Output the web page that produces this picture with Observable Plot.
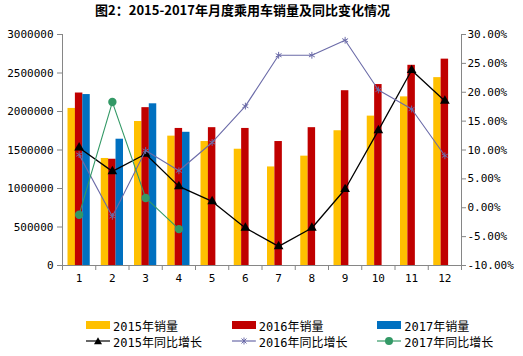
<!DOCTYPE html>
<html><head><meta charset="utf-8">
<script src="https://cdn.jsdelivr.net/npm/d3@7"></script>
<script src="https://cdn.jsdelivr.net/npm/@observablehq/plot@0.6"></script>
<style>
body{margin:0;background:#fff;width:523px;height:356px;overflow:hidden;}
#title{width:485px;height:26px;line-height:30px;text-align:center;font:bold 13px "Noto Sans CJK SC",sans-serif;color:#000;}
#legend{padding-top:27px;padding-left:86px;font:12px "DejaVu Sans Mono","Noto Sans CJK SC",monospace;color:#000;}
.row{display:flex;height:16px;align-items:center;}
.item{width:148px;display:flex;align-items:center;}
.item svg{margin-right:3px;}
</style></head>
<body>
<div id="title">图2：2015-2017年月度乘用车销量及同比变化情况</div>
<div id="chart"></div>
<div id="legend"></div>
<script>
const months = [1,2,3,4,5,6,7,8,9,10,11,12];
const sales2015 = [2040000,1390000,1870000,1680000,1610000,1510000,1280000,1420000,1750000,1940000,2190000,2440000];
const sales2016 = [2240000,1380000,2050000,1780000,1790000,1780000,1610000,1790000,2270000,2350000,2600000,2680000];
const sales2017 = [2220000,1640000,2100000,1730000];
const yoy2015 = [10.4,6.3,9.3,3.7,1.1,-3.5,-6.7,-3.5,3.2,13.4,23.8,18.5];
const yoy2016 = [9.2,-1.5,9.9,6.4,11.3,17.6,26.4,26.4,29.0,20.4,17.1,9.0];
const yoy2017 = [-1.2,18.3,1.7,-3.7];
const leftTicks = [0,500000,1000000,1500000,2000000,2500000,3000000];
const rightTicks = [-10,-5,0,5,10,15,20,25,30];

const C15 = "#FFC000", C16 = "#C00000", C17 = "#0070C0";
const L15 = "#000000", L16 = "#6B6BA8", L17 = "#339966";
const AX = "#868686";

const YMAX = 3000000, PMIN = -10, PMAX = 30;
const toY = p => (p - PMIN) / (PMAX - PMIN) * YMAX;

const mk = (vals) => vals.map((v, i) => ({m: months[i], v}));
const b15 = mk(sales2015), b16 = mk(sales2016), b17 = mk(sales2017);
const p15 = mk(yoy2015), p16 = mk(yoy2016), p17 = mk(yoy2017);

const bw = (33.17 - 11) / 3;
const bar = (data, k, fill) => Plot.rectY(data, {
  x1: d => d.m - 0.5, x2: d => d.m + 0.5, y: "v", fill,
  insetLeft: 5.5 + k * bw, insetRight: 5.5 + (2 - k) * bw
});

const font = '11px "DejaVu Sans Mono", monospace';

const chart = Plot.plot({
  width: 523, height: 264,
  marginLeft: 62, marginRight: 62, marginTop: 8, marginBottom: 25,
  style: {font, color: "#000", background: "#fff"},
  x: {type: "linear", domain: [0.5, 12.5], label: null},
  y: {domain: [0, YMAX], label: null},
  marks: [
    bar(b15, 0, C15), bar(b16, 1, C16), bar(b17, 2, C17),
    Plot.ruleY([0], {stroke: AX}),
    Plot.ruleX([0.5, 12.5], {stroke: AX}),
    Plot.axisX({ticks: d3.range(0.5, 13, 1), tickSize: 5, tickFormat: () => "", stroke: AX, label: null}),
    Plot.axisX({ticks: months, tickSize: 0, tickPadding: 9, tickFormat: d => String(d), fill: "#000", label: null}),
    Plot.axisY({anchor: "left", ticks: leftTicks, tickSize: 5, tickPadding: 4, tickFormat: d => String(d), stroke: AX, fill: "#000", label: null}),
    Plot.axisY({anchor: "right", ticks: rightTicks.map(toY), tickSize: 4, tickPadding: 2,
      tickFormat: d => (d / YMAX * (PMAX - PMIN) + PMIN).toFixed(2) + "%", stroke: AX, fill: "#000", label: null}),
    Plot.line(p15, {x: "m", y: d => toY(d.v), stroke: L15, strokeWidth: 1.3}),
    Plot.dot(p15, {x: "m", y: d => toY(d.v), symbol: "triangle", fill: L15, r: 3.6}),
    Plot.line(p16, {x: "m", y: d => toY(d.v), stroke: L16, strokeWidth: 1.1}),
    Plot.dot(p16, {x: "m", y: d => toY(d.v), symbol: "asterisk", stroke: L16, r: 3.2, strokeWidth: 1}),
    Plot.line(p17, {x: "m", y: d => toY(d.v), stroke: L17, strokeWidth: 1.1}),
    Plot.dot(p17, {x: "m", y: d => toY(d.v), symbol: "circle", fill: L17, r: 4.2})
  ]
});
document.getElementById("chart").appendChild(chart);

// legend
const legendRows = [
  [{label: "2015年销量", type: "bar", color: C15}, {label: "2016年销量", type: "bar", color: C16}, {label: "2017年销量", type: "bar", color: C17}],
  [{label: "2015年同比增长", type: "tri", color: L15}, {label: "2016年同比增长", type: "star", color: L16}, {label: "2017年同比增长", type: "circ", color: L17}]
];
const legend = document.getElementById("legend");
for (const row of legendRows) {
  const r = document.createElement("div"); r.className = "row";
  for (const it of row) {
    const d = document.createElement("div"); d.className = "item";
    let sym = "";
    if (it.type === "bar") sym = `<rect x="0" y="1" width="24" height="8" fill="${it.color}"/>`;
    else {
      sym = `<line x1="0" x2="24" y1="5" y2="5" stroke="${it.color}" stroke-width="1.2"/>`;
      if (it.type === "tri") sym += `<path d="M12,1.2L16,8.2L8,8.2Z" fill="${it.color}"/>`;
      if (it.type === "star") sym += `<path d="M9.5,2.5L14.5,7.5M14.5,2.5L9.5,7.5M12,1.5V8.5" stroke="${it.color}" stroke-width="1"/>`;
      if (it.type === "circ") sym += `<circle cx="12" cy="5" r="4" fill="${it.color}"/>`;
    }
    d.innerHTML = `<svg width="24" height="10">${sym}</svg><span>${it.label}</span>`;
    r.appendChild(d);
  }
  legend.appendChild(r);
}
</script>
</body></html>
